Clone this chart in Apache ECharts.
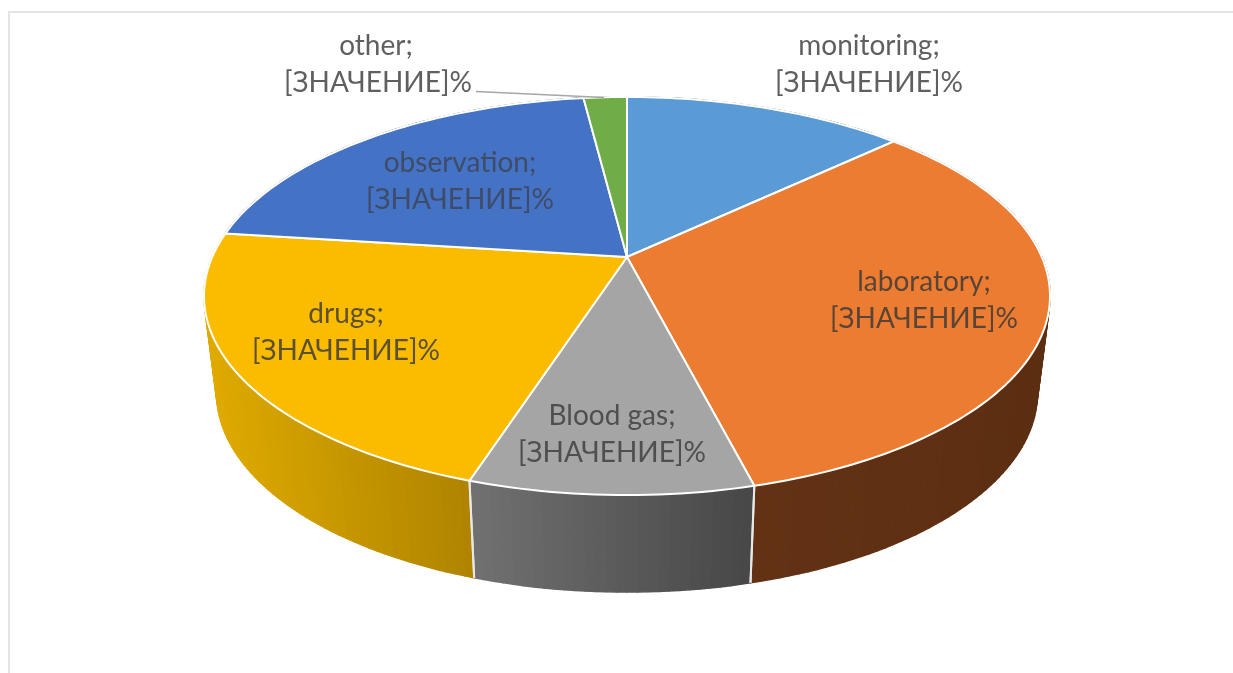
<!DOCTYPE html>
<html>
<head>
<meta charset="utf-8">
<style>html,body{margin:0;padding:0;background:#fff}#c{width:1233px;height:673px}</style>
<script src="https://cdn.jsdelivr.net/npm/echarts@6/dist/echarts.min.js"></script>
</head>
<body>
<div id="c"></div>
<script>
// Data
const categories = ['monitoring', 'laboratory', 'Blood gas', 'drugs', 'observation', 'other'];
const shares = [13, 33, 9, 22, 21, 2];
const valueText = '[ЗНАЧЕНИЕ]%';

// Styles
const topColors = ['#5b9bd5', '#eb7c31', '#a5a5a5', '#fbbc00', '#4472c4', '#70ad47'];
const wallFrom = ['#37618a', '#633214', '#707070', '#dfaa00', '#2a4678', '#456b2c'];
const wallTo = ['#37618a', '#5c2e12', '#464646', '#ae8300', '#2a4678', '#456b2c'];

// Geometry of the tilted disc (perspective projection of a circle)
const disc = { cx: 627, cy: 257, a: 414.8, b: 191.4, k: 0.196, depth: 97, shrink: 0.97 };
// Label line-1 centres; line 2 sits one lineGap below
const labelSpots = [[869, 46], [924, 282], [612, 416], [346, 314], [460, 163], [376, 46]];
const labelColors = ['#5f5f5f', '#5a4436', '#4f4f4f', '#5c5030', '#3f4c69', '#5f5f5f'];
const lineGap = 37;
const leader = [[476, 91.5], [604, 97.5]];
const font = '28px Lato, "Open Sans", sans-serif';

function project(pct) {
  const t = pct / 100 * Math.PI * 2;
  const u = Math.sin(t), v = Math.cos(t), d = 1 + disc.k * v;
  return [disc.cx + disc.a * u / d, disc.cy - disc.b * v / d];
}
function lower(p) {
  return [disc.cx + (p[0] - disc.cx) * disc.shrink, p[1] + disc.depth];
}
function arc(from, span) {
  const n = Math.max(4, Math.round(span * 3)), pts = [];
  for (let i = 0; i <= n; i++) pts.push(project(from + span * i / n));
  return pts;
}
function hex(c) { return [1, 3, 5].map(i => parseInt(c.substr(i, 2), 16)); }
function mix(a, b, f) {
  const x = hex(a), y = hex(b);
  return 'rgb(' + x.map((v, i) => Math.round(v + (y[i] - v) * f)).join(',') + ')';
}

let running = 0;
const sliceData = shares.map((s, i) => {
  const row = [running, s, i];
  running += s;
  return row;
});

function renderWall(params, api) {
  const from = api.value(0), span = api.value(1), idx = api.value(2);
  const pts = arc(from, span);
  const xs = pts.map(p => p[0]);
  const minX = Math.min.apply(null, xs), maxX = Math.max.apply(null, xs);
  const children = [];
  for (let i = 0; i < pts.length - 1; i++) {
    const p = pts[i], q = pts[i + 1];
    const f = (Math.min(p[0], q[0]) - minX) / Math.max(1, maxX - minX);
    const col = mix(wallFrom[idx], wallTo[idx], f);
    children.push({
      type: 'polygon',
      shape: { points: [p, q, lower(q), lower(p)] },
      style: { fill: col, stroke: col, lineWidth: 1.6, lineJoin: 'round' }
    });
  }
  [pts[0], pts[pts.length - 1]].forEach(p => {
    children.push({
      type: 'line',
      z2: 5,
      shape: { x1: p[0], y1: p[1], x2: lower(p)[0], y2: lower(p)[1] },
      style: { stroke: '#e8e8e8', lineWidth: 2 }
    });
  });
  return { type: 'group', children };
}

function renderTop(params, api) {
  const from = api.value(0), span = api.value(1), idx = api.value(2);
  const pts = arc(from, span);
  pts.push([disc.cx, disc.cy]);
  return {
    type: 'polygon',
    shape: { points: pts },
    style: { fill: topColors[idx], stroke: '#ffffff', lineWidth: 2, lineJoin: 'round' }
  };
}

function renderLabel(params, api) {
  const idx = api.value(2);
  const spot = labelSpots[idx];
  const children = [
    { type: 'text', style: { text: categories[idx] + ';', x: spot[0], y: spot[1], font, fill: labelColors[idx], textAlign: 'center', textVerticalAlign: 'middle' } },
    { type: 'text', style: { text: valueText, x: spot[0] + (idx === 5 ? 2 : 0), y: spot[1] + lineGap, font, fill: labelColors[idx], textAlign: 'center', textVerticalAlign: 'middle' } }
  ];
  if (categories[idx] === 'other') {
    children.push({
      type: 'line',
      shape: { x1: leader[0][0], y1: leader[0][1], x2: leader[1][0], y2: leader[1][1] },
      style: { stroke: '#a6a6a6', lineWidth: 1.3 }
    });
  }
  return { type: 'group', children };
}

const chart = echarts.init(document.getElementById('c'), null, { renderer: 'canvas' });
chart.setOption({
  animation: false,
  backgroundColor: '#ffffff',
  tooltip: { show: false },
  graphic: [{
    type: 'rect', silent: true,
    shape: { x: 9, y: 12, width: 1400, height: 900 },
    style: { fill: 'transparent', stroke: '#e4e4e4', lineWidth: 2 }
  }],
  series: [
    { type: 'custom', coordinateSystem: 'none', silent: true, z: 2, data: sliceData, renderItem: renderWall },
    { type: 'custom', coordinateSystem: 'none', silent: true, z: 3, data: sliceData, renderItem: renderTop },
    { type: 'custom', coordinateSystem: 'none', silent: true, z: 4, data: sliceData, renderItem: renderLabel }
  ]
});
</script>
</body>
</html>
